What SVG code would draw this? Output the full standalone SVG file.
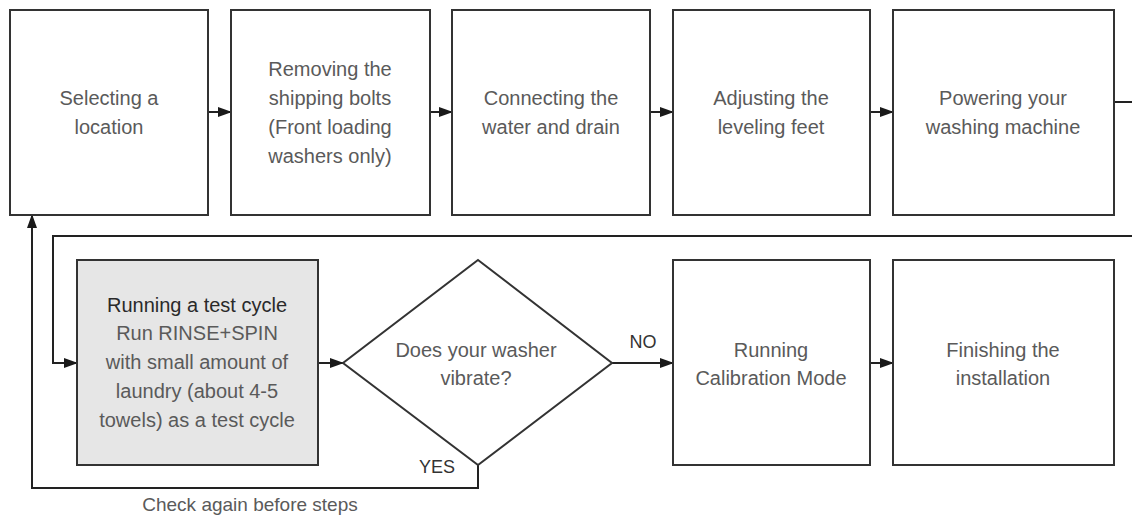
<svg xmlns="http://www.w3.org/2000/svg" width="1132" height="517" viewBox="0 0 1132 517">
<style>
.box{fill:#fff;stroke:#333;stroke-width:2}
.gray{fill:#e6e6e6;stroke:#333;stroke-width:2}
.t{font-family:"Liberation Sans",Arial,sans-serif;font-size:20px;fill:#5a5a5a;text-anchor:middle}
.b{fill:#2a2a2a}
.lbl{font-family:"Liberation Sans",Arial,sans-serif;font-size:18px;fill:#333;text-anchor:middle}
.c{fill:none;stroke:#222;stroke-width:2}
</style>
<defs>
<marker id="ah" markerWidth="14" markerHeight="12" refX="13" refY="6" orient="auto" markerUnits="userSpaceOnUse">
<path d="M0,1 L14,6 L0,11 Z" fill="#1a1a1a"/>
</marker>
</defs>
<rect width="1132" height="517" fill="#fff"/>
<g id="connectors">
<path class="c" d="M208,112 H231" marker-end="url(#ah)"/>
<path class="c" d="M430,112 H452" marker-end="url(#ah)"/>
<path class="c" d="M650,112 H673" marker-end="url(#ah)"/>
<path class="c" d="M870,112 H893" marker-end="url(#ah)"/>
<path class="c" d="M1114,102 H1140 V236 H53 V363 H77" marker-end="url(#ah)"/>
<path class="c" d="M318,363 H343" marker-end="url(#ah)"/>
<path class="c" d="M612,363 H673" marker-end="url(#ah)"/>
<path class="c" d="M870,363 H893" marker-end="url(#ah)"/>
<path class="c" d="M478,465 V488 H32 V215" marker-end="url(#ah)"/>
<text class="lbl" x="643" y="348">NO</text>
<text class="lbl" x="437" y="473">YES</text>
<text class="t" x="250" y="511" style="font-size:19px">Check again before steps</text>
</g>
<g id="n1">
<rect class="box" x="10" y="10" width="198" height="205"/>
<text class="t" x="109" y="105">Selecting a</text>
<text class="t" x="109" y="134">location</text>
</g>
<g id="n2">
<rect class="box" x="231" y="10" width="199" height="205"/>
<text class="t" x="330" y="76">Removing the</text>
<text class="t" x="330" y="105">shipping bolts</text>
<text class="t" x="330" y="134">(Front loading</text>
<text class="t" x="330" y="163">washers only)</text>
</g>
<g id="n3">
<rect class="box" x="452" y="10" width="198" height="205"/>
<text class="t" x="551" y="105">Connecting the</text>
<text class="t" x="551" y="134">water and drain</text>
</g>
<g id="n4">
<rect class="box" x="673" y="10" width="197" height="205"/>
<text class="t" x="771" y="105">Adjusting the</text>
<text class="t" x="771" y="134">leveling feet</text>
</g>
<g id="n5">
<rect class="box" x="893" y="10" width="221" height="205"/>
<text class="t" x="1003" y="105">Powering your</text>
<text class="t" x="1003" y="134">washing machine</text>
</g>
<g id="n6">
<rect class="gray" x="77" y="260" width="241" height="205"/>
<text class="t b" x="197" y="312">Running a test cycle</text>
<text class="t" x="197" y="340">Run RINSE+SPIN</text>
<text class="t" x="197" y="369">with small amount of</text>
<text class="t" x="197" y="398">laundry (about 4-5</text>
<text class="t" x="197" y="427">towels) as a test cycle</text>
</g>
<g id="n7">
<path class="box" d="M478,260 L612,363 L478,465 L343,363 Z"/>
<text class="t" x="476" y="357">Does your washer</text>
<text class="t" x="476" y="385">vibrate?</text>
</g>
<g id="n8">
<rect class="box" x="673" y="260" width="197" height="205"/>
<text class="t" x="771" y="357">Running</text>
<text class="t" x="771" y="385">Calibration Mode</text>
</g>
<g id="n9">
<rect class="box" x="893" y="260" width="221" height="205"/>
<text class="t" x="1003" y="357">Finishing the</text>
<text class="t" x="1003" y="385">installation</text>
</g>
</svg>
